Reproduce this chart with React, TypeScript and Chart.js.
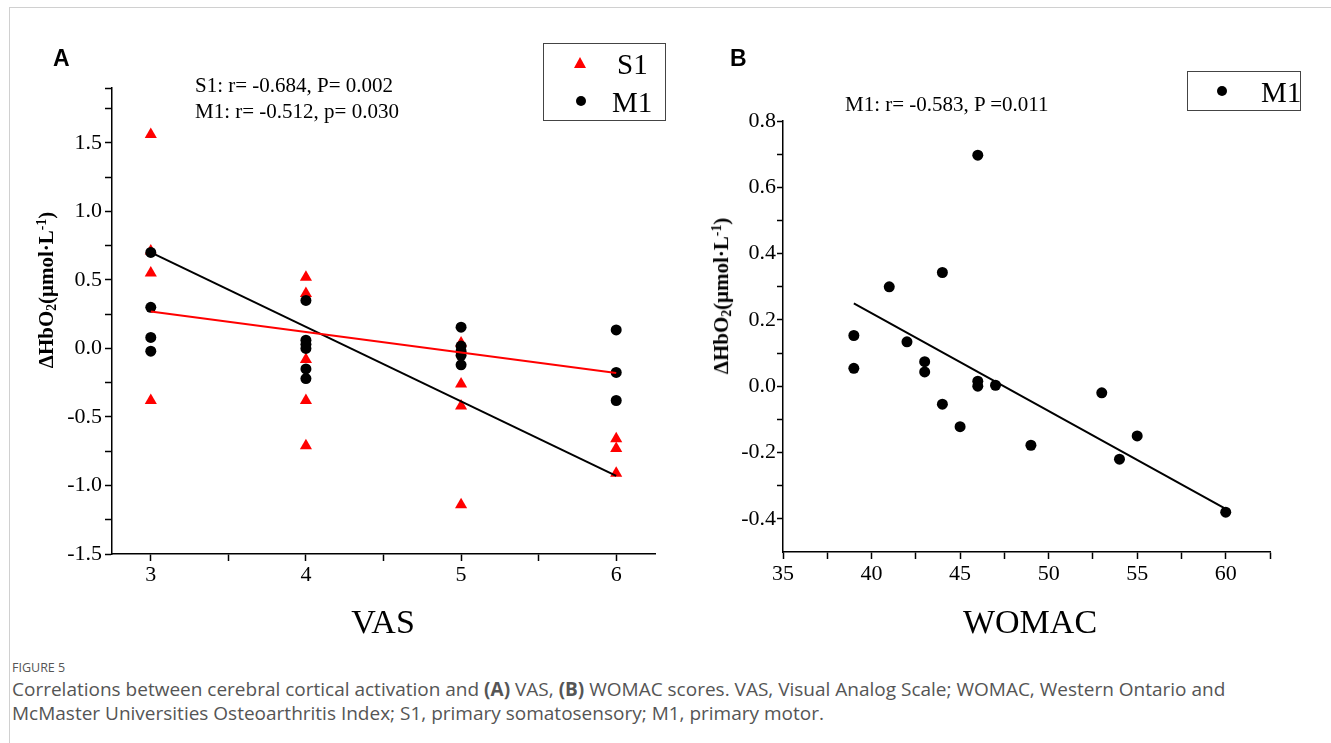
import React, { useEffect, useRef } from "react";
import { Chart, registerables } from "chart.js";

Chart.register(...registerables);

// ---------- Panel A data (VAS) ----------
const vasS1X = [3, 3, 3, 3, 4, 4, 4, 4, 4, 5, 5, 5, 5, 6, 6, 6];
const vasS1Y = [1.56, 0.71, 0.55, -0.38, 0.52, 0.4, -0.08, -0.38, -0.71, 0.04, -0.26, -0.42, -1.14, -0.66, -0.73, -0.91];
const vasM1X = [3, 3, 3, 3, 4, 4, 4, 4, 4, 4, 5, 5, 5, 5, 5, 6, 6, 6];
const vasM1Y = [0.7, 0.3, 0.08, -0.02, 0.35, 0.06, 0.03, 0.0, -0.15, -0.22, 0.155, 0.017, -0.02, -0.05, -0.12, 0.135, -0.175, -0.38];
const vasRedFitX = [3, 6];
const vasRedFitY = [0.27, -0.18];
const vasBlackFitX = [3, 6];
const vasBlackFitY = [0.7, -0.93];
const vasXTicks = [3, 3.5, 4, 4.5, 5, 5.5, 6];
const vasXLabels = [3, 4, 5, 6];
const vasYTicks = [-1.5, -1.25, -1, -0.75, -0.5, -0.25, 0, 0.25, 0.5, 0.75, 1, 1.25, 1.5, 1.75, 1.9];
const vasYLabels = [-1.5, -1, -0.5, 0, 0.5, 1, 1.5];

// ---------- Panel B data (WOMAC) ----------
const womacX = [39, 39, 41, 42, 43, 43, 44, 44, 45, 46, 46, 46, 47, 49, 53, 54, 55, 60];
const womacY = [0.153, 0.054, 0.3, 0.134, 0.074, 0.043, 0.343, -0.054, -0.122, 0.697, 0.015, 0.0, 0.003, -0.178, -0.02, -0.22, -0.15, -0.38];
const womacFitX = [39, 60];
const womacFitY = [0.25, -0.37];
const womacXTicks = [35, 37.5, 40, 42.5, 45, 47.5, 50, 52.5, 55, 57.5, 60, 62.5];
const womacXLabels = [35, 40, 45, 50, 55, 60];
const womacYTicks = [-0.4, -0.3, -0.2, -0.1, 0, 0.1, 0.2, 0.3, 0.4, 0.5, 0.6, 0.7, 0.8];
const womacYLabels = [-0.4, -0.2, 0, 0.2, 0.4, 0.6, 0.8];

const SERIF = "'Liberation Serif', 'Times New Roman', serif";
const SANS = "'Liberation Sans', Arial, sans-serif";

const pts = (xs: number[], ys: number[]) => xs.map((x, i) => ({ x, y: ys[i] }));
const has = (arr: number[], v: number) => arr.some((a) => Math.abs(a - v) < 1e-9);

function axis(opts: any) {
  const { min, max, ticks, labels, fmt, fixed, size, padding, tickLength } = opts;
  return {
    type: "linear",
    min,
    max,
    afterBuildTicks: (s: any) => {
      s.ticks = ticks.map((v: number) => ({ value: v }));
    },
    afterFit: (s: any) => {
      if (s.isHorizontal()) s.height = fixed;
      else s.width = fixed;
    },
    grid: {
      display: true,
      drawOnChartArea: false,
      drawTicks: true,
      tickLength,
      tickWidth: 1.5,
      tickColor: "#000",
    },
    border: { display: true, color: "#000", width: 1.5 },
    ticks: {
      autoSkip: false,
      maxRotation: 0,
      minRotation: 0,
      color: "#000",
      padding,
      font: { family: SERIF, size },
      callback: (v: number) => (has(labels, v) ? fmt(v) : ""),
    },
  };
}

function ScatterA() {
  const ref = useRef<HTMLCanvasElement>(null);
  useEffect(() => {
    const chart = new Chart(ref.current!, {
      type: "scatter",
      data: {
        datasets: [
          {
            type: "line",
            label: "S1 fit",
            data: pts(vasRedFitX, vasRedFitY),
            borderColor: "#ff0000",
            borderWidth: 2,
            pointRadius: 0,
            fill: false,
          } as any,
          {
            type: "line",
            label: "M1 fit",
            data: pts(vasBlackFitX, vasBlackFitY),
            borderColor: "#000000",
            borderWidth: 2,
            pointRadius: 0,
            fill: false,
          } as any,
          {
            label: "M1",
            data: pts(vasM1X, vasM1Y),
            pointStyle: "circle",
            pointRadius: 5.5,
            backgroundColor: "#000",
            borderColor: "#000",
            borderWidth: 0,
          },
          {
            label: "S1",
            data: pts(vasS1X, vasS1Y),
            pointStyle: "triangle",
            pointRadius: 7,
            backgroundColor: "#ff0000",
            borderColor: "#ff0000",
            borderWidth: 0,
          },
        ],
      },
      options: {
        animation: false,
        responsive: false,
        devicePixelRatio: 1,
        layout: { padding: { left: 0, top: 88, right: 45, bottom: 46 } },
        plugins: { legend: { display: false }, tooltip: { enabled: false } },
        scales: {
          x: axis({ min: 2.75, max: 6.25, ticks: vasXTicks, labels: vasXLabels, fmt: (v: number) => String(v), fixed: 40, size: 22, padding: 1, tickLength: 7 }),
          y: axis({ min: -1.5, max: 1.9, ticks: vasYTicks, labels: vasYLabels, fmt: (v: number) => v.toFixed(1), fixed: 112, size: 22, padding: 3, tickLength: 7 }),
        } as any,
      },
    });
    return () => chart.destroy();
  }, []);
  return <canvas ref={ref} width={700} height={640} style={{ position: "absolute", left: 0, top: 0 }} />;
}

function ScatterB() {
  const ref = useRef<HTMLCanvasElement>(null);
  useEffect(() => {
    const chart = new Chart(ref.current!, {
      type: "scatter",
      data: {
        datasets: [
          {
            type: "line",
            label: "M1 fit",
            data: pts(womacFitX, womacFitY),
            borderColor: "#000000",
            borderWidth: 2,
            pointRadius: 0,
            fill: false,
          } as any,
          {
            label: "M1",
            data: pts(womacX, womacY),
            pointStyle: "circle",
            pointRadius: 5.5,
            backgroundColor: "#000",
            borderColor: "#000",
            borderWidth: 0,
          },
        ],
      },
      options: {
        animation: false,
        responsive: false,
        devicePixelRatio: 1,
        layout: { padding: { left: 0, top: 121, right: 61, bottom: 48 } },
        plugins: { legend: { display: false }, tooltip: { enabled: false } },
        scales: {
          x: axis({ min: 35, max: 62.5, ticks: womacXTicks, labels: womacXLabels, fmt: (v: number) => String(v), fixed: 40, size: 22, padding: 2, tickLength: 7 }),
          y: axis({ min: -0.5, max: 0.8, ticks: womacYTicks, labels: womacYLabels, fmt: (v: number) => v.toFixed(1), fixed: 103, size: 22, padding: 1, tickLength: 6 }),
        } as any,
      },
    });
    return () => chart.destroy();
  }, []);
  return <canvas ref={ref} width={651} height={640} style={{ position: "absolute", left: 680, top: 0 }} />;
}

const abs = (left: number, top: number, extra: any = {}) => ({ position: "absolute" as const, left, top, ...extra });

function YTitle({ cx, cy, size }: { cx: number; cy: number; size: number }) {
  return (
    <div
      style={{
        position: "absolute",
        left: cx,
        top: cy,
        transform: "translate(-50%, -50%) rotate(-90deg)",
        whiteSpace: "nowrap",
        fontFamily: SERIF,
        fontWeight: "bold",
        fontSize: size,
        lineHeight: 1,
        color: "#000",
      }}
    >
      ΔHbO<sub style={{ fontSize: "0.65em", verticalAlign: "-0.25em" }}>2</sub>(μmol·L
      <sup style={{ fontSize: "0.65em", verticalAlign: "0.5em" }}>-1</sup>)
    </div>
  );
}

function Centered({ x, y, text, style }: any) {
  return (
    <div style={{ position: "absolute", left: x, top: y, transform: "translate(0, -50%)", whiteSpace: "nowrap", lineHeight: 1, ...style }}>
      {text}
    </div>
  );
}

export default function App() {
  const textSerif = { fontFamily: SERIF, color: "#000" };
  return (
    <div style={{ position: "fixed", left: 0, top: 0, width: 1331, height: 743, background: "#fff", overflow: "hidden" }}>
      <div style={abs(9, 7, { width: 1400, height: 800, borderLeft: "1px solid #d0d0d0", borderTop: "1px solid #d0d0d0" })} />
      <ScatterA />
      <ScatterB />

      {/* panel letters */}
      <Centered x={53} y={58} text="A" style={{ fontFamily: SANS, fontWeight: "bold", fontSize: 23 }} />
      <Centered x={730} y={58} text="B" style={{ fontFamily: SANS, fontWeight: "bold", fontSize: 23 }} />

      {/* annotations */}
      <Centered x={195} y={85} text="S1: r= -0.684, P= 0.002" style={{ ...textSerif, fontSize: 21 }} />
      <Centered x={195} y={111} text="M1: r= -0.512, p= 0.030" style={{ ...textSerif, fontSize: 21 }} />
      <Centered x={845} y={104} text="M1: r= -0.583, P =0.011" style={{ ...textSerif, fontSize: 21 }} />

      {/* legend A */}
      <div style={abs(543, 43, { width: 123, height: 78, border: "1px solid #444", boxSizing: "border-box" })} />
      <div style={abs(574, 57, { width: 0, height: 0, borderLeft: "6.5px solid transparent", borderRight: "6.5px solid transparent", borderBottom: "11px solid #ff0000" })} />
      <Centered x={617} y={64} text="S1" style={{ ...textSerif, fontSize: 29 }} />
      <div style={abs(576, 96, { width: 10, height: 10, borderRadius: "50%", background: "#000" })} />
      <Centered x={612} y={102} text="M1" style={{ ...textSerif, fontSize: 29 }} />

      {/* legend B */}
      <div style={abs(1187, 71, { width: 114, height: 40, border: "1px solid #444", boxSizing: "border-box" })} />
      <div style={abs(1217, 86, { width: 10, height: 10, borderRadius: "50%", background: "#000" })} />
      <Centered x={1261} y={92} text="M1" style={{ ...textSerif, fontSize: 29 }} />

      {/* axis titles */}
      <YTitle cx={47} cy={290} size={21} />
      <YTitle cx={722} cy={296} size={21} />
      <div style={abs(383, 622, { transform: "translate(-50%, -50%)", ...textSerif, fontSize: 34, lineHeight: 1 })}>VAS</div>
      <div style={abs(1030, 622, { transform: "translate(-50%, -50%)", ...textSerif, fontSize: 34, lineHeight: 1 })}>WOMAC</div>

      {/* caption */}
      <Centered x={12} y={668} text="FIGURE 5" style={{ fontFamily: "'Open Sans', sans-serif", fontSize: 12.5, color: "#555" }} />
      <div style={abs(12, 677, { fontFamily: "'Open Sans', sans-serif", fontSize: 19, lineHeight: "24px", color: "#555", width: 1310 })}>
        Correlations between cerebral cortical activation and <b>(A)</b> VAS, <b>(B)</b> WOMAC scores. VAS, Visual Analog Scale; WOMAC, Western Ontario and
        <br />
        McMaster Universities Osteoarthritis Index; S1, primary somatosensory; M1, primary motor.
      </div>
    </div>
  );
}
